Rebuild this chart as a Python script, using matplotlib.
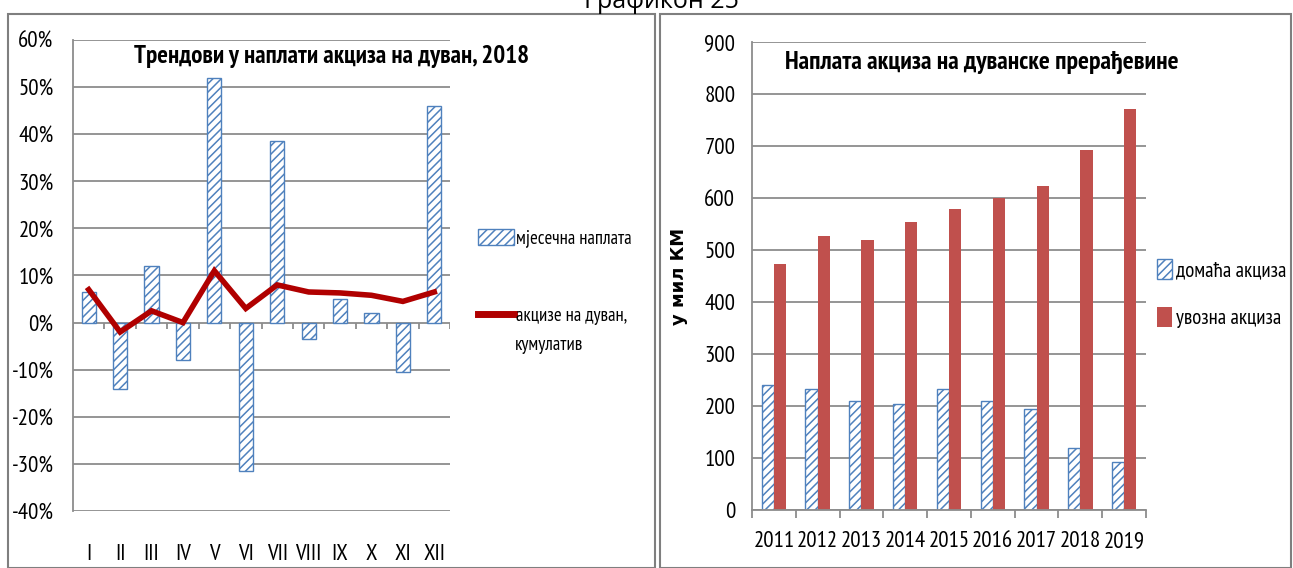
import numpy as np
import matplotlib
matplotlib.use('Agg')
import matplotlib.pyplot as plt
from matplotlib.patches import Patch, Rectangle
from matplotlib.lines import Line2D

plt.rcParams['font.family'] = ['PT Sans Narrow', 'DejaVu Sans']
plt.rcParams['hatch.linewidth'] = 1.1

# left chart: monthly trends 2018
months = ['I', 'II', 'III', 'IV', 'V', 'VI', 'VII', 'VIII', 'IX', 'X', 'XI', 'XII']
monthly = [6.5, -14.0, 12.0, -8.0, 52.0, -31.5, 38.5, -3.5, 5.0, 2.0, -10.5, 46.0]
cumulative = [7.0, -2.0, 2.5, 0.0, 11.0, 3.0, 8.0, 6.5, 6.3, 5.8, 4.5, 6.5]

# right chart: yearly collection, mil KM
years = ['2011', '2012', '2013', '2014', '2015', '2016', '2017', '2018', '2019']
domestic = [240, 233, 209, 204, 233, 209, 194, 120, 93]
imported = [474, 527, 519, 554, 578, 600, 624, 693, 772]

BLUE = '#4F81BD'
RED = '#C0504D'
DARKRED = '#B00000'
GRID = '#8C8C8C'

W, H = 1293, 568
fig = plt.figure(figsize=(W / 100, H / 100), dpi=100)


def px(x0, y0, x1, y1):
  # pixel box -> figure fraction rect
  return [x0 / W, 1 - y1 / H, (x1 - x0) / W, (y1 - y0) / H]


# panel frames
for x0, x1 in [(8, 655), (660, 1291)]:
  fig.patches.append(Rectangle((x0 / W, 0), (x1 - x0) / W, 1 - 14 / H,
                               transform=fig.transFigure, fill=False,
                               edgecolor='#7F7F7F', lw=1.5))

fig.text(661 / W, 1 - 8 / H, 'Графикон 25', ha='center', va='baseline',
         fontsize=18, family=['Open Sans', 'DejaVu Sans'])

# ---------------- left
ax = fig.add_axes(px(73, 40, 450, 511))
x = np.arange(len(months))
ax.bar(x, monthly, width=0.45, color='white', edgecolor=BLUE, hatch='////',
       lw=1.0, zorder=2)
ax.plot(x, cumulative, color=DARKRED, lw=4, zorder=3, solid_joinstyle='miter')
ax.set_xlim(-0.5, len(months) - 0.5)
ax.set_ylim(-40, 60)
ax.set_yticks(np.arange(-40, 61, 10))
ax.set_yticklabels(['%d%%' % v for v in np.arange(-40, 61, 10)], fontsize=16.5)
ax.yaxis.grid(True, color=GRID, lw=1.3, zorder=0)
ax.set_axisbelow(True)
ax.set_xticks(x)
ax.set_xticklabels(months, fontsize=16.5)
ax.tick_params(axis='x', length=0, pad=24)
ax.tick_params(axis='y', length=0, pad=14)
for s in ['top', 'right', 'bottom']:
  ax.spines[s].set_visible(False)
ax.spines['left'].set_color(GRID)
ax.spines['left'].set_linewidth(1.3)
ax.vlines(np.arange(len(months) + 1) - 0.5, -1.3, 0, color=GRID, lw=1.3, zorder=1)
ax.text(0.685, 0.99, 'Трендови у наплати акциза на дуван, 2018', transform=ax.transAxes,
        ha='center', va='top', fontsize=18, fontweight='bold')

leg1 = ax.legend([Patch(facecolor='white', edgecolor=BLUE, hatch='////')],
                 ['мјесечна наплата'], loc='center left', frameon=False,
                 bbox_to_anchor=(478 / W, 1 - 238 / H), bbox_transform=fig.transFigure,
                 fontsize=13.5, handlelength=1.9, handleheight=1.0, handletextpad=0.1,
                 borderaxespad=0, borderpad=0)
ax.add_artist(leg1)
ax.legend([Line2D([], [], color=DARKRED, lw=5)], ['акцизе на дуван,'],
          loc='center left', frameon=False,
          bbox_to_anchor=(478 / W, 1 - 316 / H), bbox_transform=fig.transFigure,
          fontsize=13.5, handlelength=1.9, handletextpad=0.1,
          borderaxespad=0, borderpad=0)
fig.text(515 / W, 1 - 345 / H, 'кумулатив', ha='left', va='center', fontsize=13.5)

# ---------------- right
ax2 = fig.add_axes(px(752, 42, 1146, 510))
xr = np.arange(len(years))
bw = 0.28
ax2.bar(xr - bw / 2, domestic, width=bw, color='white', edgecolor=BLUE,
        hatch='////', lw=1.0, zorder=2, label='домаћа акциза')
ax2.bar(xr + bw / 2, imported, width=bw, color=RED, zorder=2, label='увозна акциза')
ax2.set_xlim(-0.5, len(years) - 0.5)
ax2.set_ylim(0, 900)
ax2.set_yticks(np.arange(0, 901, 100))
ax2.yaxis.grid(True, color=GRID, lw=1.3, zorder=0)
ax2.set_axisbelow(True)
ax2.set_xticks(xr)
ax2.set_xticklabels(years)
ax2.set_xticks(np.arange(len(years) + 1) - 0.5, minor=True)
ax2.tick_params(axis='x', which='major', length=0, pad=15, labelsize=16.5)
ax2.tick_params(axis='x', which='minor', length=6, color=GRID, width=1.3)
ax2.tick_params(axis='y', length=0, pad=12, labelsize=16.5)
for s in ['top', 'right']:
  ax2.spines[s].set_visible(False)
for s in ['left', 'bottom']:
  ax2.spines[s].set_color(GRID)
  ax2.spines[s].set_linewidth(1.3)
ax2.set_ylabel('у мил КМ', fontsize=13, fontweight='bold', labelpad=12,
               family=['DejaVu Sans'])
ax2.text(0.583, 0.98, 'Наплата акциза на дуванске прерађевине', transform=ax2.transAxes,
         ha='center', va='top', fontsize=18.5, fontweight='bold')
ax2.legend(loc='upper left', frameon=False,
           bbox_to_anchor=(1157 / W, 1 - 259 / H), bbox_transform=fig.transFigure,
           fontsize=15, handlelength=0.7, handleheight=1.1, handletextpad=0.2,
           labelspacing=1.3, borderaxespad=0, borderpad=0)

fig.savefig('out.png', dpi=100)
